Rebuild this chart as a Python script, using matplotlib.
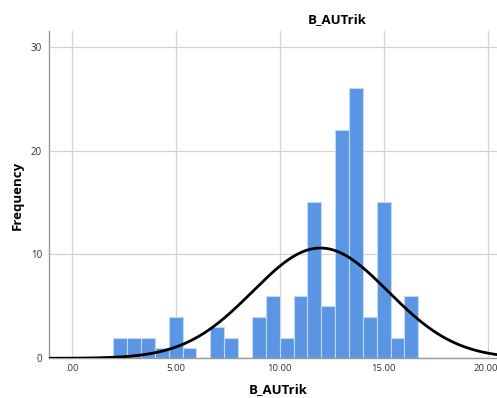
import matplotlib
matplotlib.use('Agg')
import matplotlib.pyplot as plt
import matplotlib.transforms as mtransforms
import numpy as np

# ==========================================
# DATA
# ==========================================
bin_start = 2.0
bin_width = 2.0 / 3.0
counts = [2, 2, 2, 1, 4, 1, 0, 3, 2, 0, 4, 6, 2, 6, 15, 5, 22, 26, 4, 15, 2, 6]
x_ticks = [0, 5, 10, 15, 20]
x_ticklabels = ['.00', '5.00', '10.00', '15.00', '20.00']
y_ticks = [0, 10, 20, 30]

edges = bin_start + bin_width * np.arange(len(counts) + 1)
centers = (edges[:-1] + edges[1:]) / 2
counts = np.array(counts)

# normal curve fitted to the binned data
n = counts.sum()
mean = (counts * centers).sum() / n
sd = np.sqrt((counts * (centers - mean) ** 2).sum() / (n - 1))

plt.rcParams['font.family'] = ['Open Sans', 'DejaVu Sans']

fig = plt.figure(figsize=(4.97, 3.98), dpi=100)
ax = fig.add_axes([0.0986, 0.0997, 0.9014, 0.8223])

ax.bar(edges[:-1], counts, width=bin_width, align='edge',
       color='#5a96e3', edgecolor='#c4d8f2', linewidth=0.8, zorder=2)

xs = np.linspace(-1.2, 20.6, 400)
ys = n * bin_width / (sd * np.sqrt(2 * np.pi)) * np.exp(-0.5 * ((xs - mean) / sd) ** 2)
ax.plot(xs, ys, color='black', linewidth=2.0, zorder=3)

ax.set_xlim(-1.09, 20.45)
ax.set_ylim(0, 31.5)
ax.set_xticks(x_ticks)
ax.set_xticklabels(x_ticklabels)
ax.set_yticks(y_ticks)
ax.tick_params(axis='x', length=0, labelsize=6.8, colors='#333333', pad=4)
ax.tick_params(axis='y', length=0, labelsize=7, colors='#333333', pad=5)
ax.grid(True, color='#d4d4d4', linewidth=0.9, zorder=0)
ax.set_axisbelow(True)

# keep the last x label inside the canvas
last = ax.get_xticklabels()[-1]
last.set_transform(last.get_transform() +
                   mtransforms.ScaledTranslation(-2 / 100, 0, fig.dpi_scale_trans))

for s in ['top', 'right']:
    ax.spines[s].set_visible(False)
for s in ['left', 'bottom']:
    ax.spines[s].set_color('#999999')
    ax.spines[s].set_linewidth(1.0)

# axis titles placed like SPSS output
fig.text(278 / 497, 1 - 390 / 398, 'B_AUTrik', ha='center', va='center',
         fontsize=9.5, fontweight='bold')
fig.text(17 / 497, 1 - 195 / 398, 'Frequency', ha='center', va='center',
         rotation=90, fontsize=9.5, fontweight='bold')
fig.text(337 / 497, 1 - 20 / 398, 'B_AUTrik', ha='center', va='center',
         fontsize=9.5, fontweight='bold')

fig.savefig('out.png', dpi=100)
print(mean, sd)
